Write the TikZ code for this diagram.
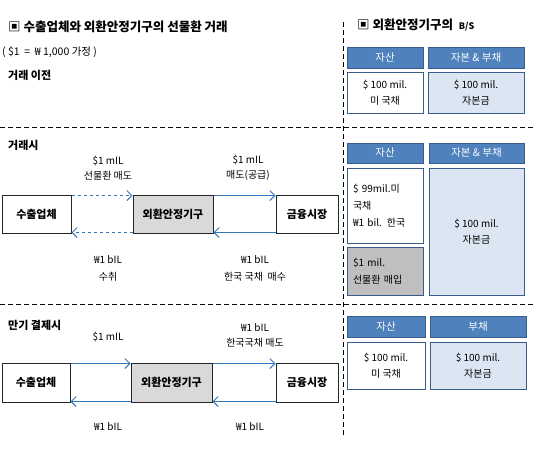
\documentclass[tikz,border=0pt]{standalone}
\usepackage{fontspec}
\setmainfont{Noto Sans CJK KR}
\usepackage{xcolor}
\definecolor{hdblue}{rgb}{0.31,0.506,0.741}
\definecolor{hdborder}{rgb}{0.22,0.365,0.541}
\definecolor{cellblue}{rgb}{0.863,0.902,0.949}
\definecolor{arrowblue}{rgb}{0.2,0.47,0.73}
\definecolor{boxgrey}{rgb}{0.85,0.85,0.85}
\definecolor{cellgrey}{rgb}{0.75,0.75,0.75}
\usetikzlibrary{arrows.meta}

\tikzset{
  flowbox/.style={draw=black!85,line width=1pt,minimum height=38pt,inner sep=0pt,font=\fontsize{11}{13}\selectfont\bfseries},
  bshead/.style={draw=hdborder,fill=hdblue,text=white,line width=1pt,minimum height=21pt,inner sep=0pt,font=\fontsize{10.5}{12}\selectfont},
  bscell/.style={draw=hdborder,line width=1pt,inner sep=0pt,align=center,font=\fontsize{10}{16}\selectfont},
  flowarrow/.style={draw=arrowblue,line width=1pt,-{Straight Barb[length=5pt,width=10pt]}},
  flowlabel/.style={align=center,font=\fontsize{10}{15}\selectfont},
  seprule/.style={line width=1pt,dash pattern=on 5pt off 3pt}
}

\begin{document}
\begin{tikzpicture}[x=1pt,y=-1pt]
\useasboundingbox (0,0) rectangle (540,453);

% Titles
\node[anchor=west,inner sep=0pt,font=\fontsize{12.5}{14}\selectfont\bfseries] (title1) at (8,27) {▣ 수출업체와 외환안정기구의 선물환 거래};
\node[anchor=west,inner sep=0pt,font=\fontsize{10.5}{12}\selectfont] (assume) at (2,52) {( \$1 \ = \ ₩ 1,000 가정 )};
\node[anchor=west,inner sep=0pt,font=\fontsize{11}{13}\selectfont\bfseries] (before) at (8,75) {거래 이전};
\node[anchor=west,inner sep=0pt,font=\fontsize{12.5}{14}\selectfont\bfseries] (title2) at (357,25) {▣ 외환안정기구의 \ {\fontsize{9}{10}\selectfont B/S}};

% Separating dashed lines
\draw[seprule] (0,127) -- (535,127);
\draw[seprule] (0,304) -- (535,304);
\draw[seprule] (343,22) -- (343,435);

% B/S before the deal
\node[bshead,minimum width=76pt] (h1a) at (385,58) {자산};
\node[bshead,minimum width=96pt] (h1b) at (476,58) {자본 \& 부채};
\node[bscell,fill=white,minimum width=76pt,minimum height=41pt] (c1a) at (385,92.5) {\$ 100 mil.\\미 국채};
\node[bscell,fill=cellblue,minimum width=96pt,minimum height=41pt] (c1b) at (476,92.5) {\$ 100 mil.\\자본금};

% Deal
\node[anchor=west,inner sep=0pt,font=\fontsize{11}{13}\selectfont\bfseries] (during) at (8,145) {거래시};
\node[flowbox,minimum width=69pt] (exp2) at (36.5,214) {수출업체};
\node[flowbox,fill=boxgrey,minimum width=80pt] (fsa2) at (173,214) {외환안정기구};
\node[flowbox,minimum width=62pt] (mkt2) at (307,214) {금융시장};
\draw[flowarrow,dashed] ([yshift=-1pt]exp2.north east) -- ([yshift=-1pt]fsa2.north west);
\draw[flowarrow,dashed] ([yshift=1pt]fsa2.south west) -- ([yshift=1pt]exp2.south east);
\draw[flowarrow] ([yshift=-1pt]fsa2.north east) -- ([yshift=-1pt]mkt2.north west);
\draw[flowarrow] ([yshift=1pt]mkt2.south west) -- ([yshift=1pt]fsa2.south east);
\node[flowlabel] (l2a) at (108,168) {\$1 mIL\\선물환 매도};
\node[flowlabel] (l2b) at (248,168) {\$1 mIL\\매도(공급)};
\node[flowlabel,font=\fontsize{10}{17}\selectfont] (l2c) at (108,268.5) {₩1 bIL\\수취};
\node[flowlabel,font=\fontsize{10}{17}\selectfont] (l2d) at (255,268.5) {₩1 bIL\\한국 국채 \ 매수};

% B/S during the deal
\node[bshead,minimum width=76pt,minimum height=20pt] (h2a) at (385,153) {자산};
\node[bshead,minimum width=95pt,minimum height=20pt] (h2b) at (476.5,153) {자본 \& 부채};
\node[bscell,fill=white,minimum width=76pt,minimum height=75pt,text width=64pt,align=left,font=\fontsize{10}{17}\selectfont] (c2a) at (385,205.5) {\$ 99mil.미\\국채\\₩1 bil. 한국};
\node[bscell,fill=cellgrey,minimum width=76pt,minimum height=48pt,text width=64pt,align=left,font=\fontsize{10}{17}\selectfont] (c2g) at (385,271) {\$1 mil.\\선물환 매입};
\node[bscell,fill=cellblue,minimum width=95pt,minimum height=127pt] (c2b) at (476.5,231.5) {\$ 100 mil.\\자본금};

% Settlement
\node[anchor=west,inner sep=0pt,font=\fontsize{11}{13}\selectfont\bfseries] (settle) at (8,325) {만기 결제시};
\node[flowbox,minimum width=68pt,minimum height=39pt] (exp3) at (36,382.5) {수출업체};
\node[flowbox,fill=boxgrey,minimum width=81pt,minimum height=39pt] (fsa3) at (171.5,382.5) {외환안정기구};
\node[flowbox,minimum width=62pt,minimum height=39pt] (mkt3) at (307,382.5) {금융시장};
\draw[flowarrow] ([yshift=-1pt]exp3.north east) -- ([yshift=-1pt]fsa3.north west);
\draw[flowarrow] ([yshift=1pt]fsa3.south west) -- ([yshift=1pt]exp3.south east);
\draw[flowarrow] ([yshift=-1pt]fsa3.north east) -- ([yshift=-1pt]mkt3.north west);
\draw[flowarrow] ([yshift=1pt]mkt3.south west) -- ([yshift=1pt]fsa3.south east);
\node[flowlabel] (l3a) at (108,337) {\$1 mIL};
\node[flowlabel] (l3b) at (255,335.5) {₩1 bIL\\한국국채 매도};
\node[flowlabel] (l3c) at (108,427) {₩1 bIL};
\node[flowlabel] (l3d) at (250,427) {₩1 bIL};

% B/S after settlement
\node[bshead,minimum width=78pt] (h3a) at (386,326.5) {자산};
\node[bshead,minimum width=96pt] (h3b) at (478,326.5) {부채};
\node[bscell,fill=white,minimum width=78pt,minimum height=47pt] (c3a) at (386,365.5) {\$ 100 mil.\\미 국채};
\node[bscell,fill=cellblue,minimum width=96pt,minimum height=47pt] (c3b) at (478,365.5) {\$ 100 mil.\\자본금};

\end{tikzpicture}
\end{document}
